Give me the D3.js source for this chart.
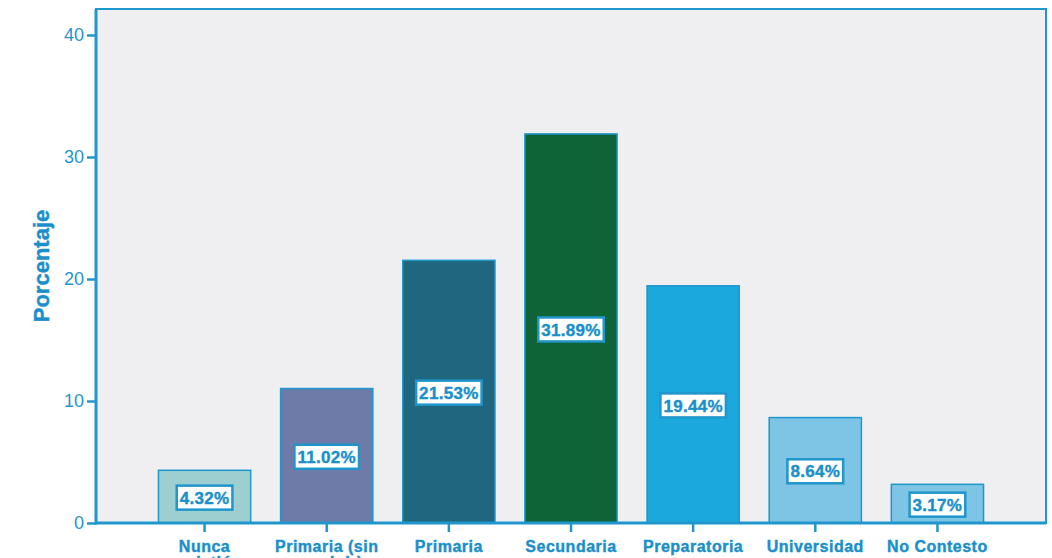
<!DOCTYPE html>
<html>
<head>
<meta charset="utf-8">
<script src="https://cdn.jsdelivr.net/npm/d3@7"></script>
<style>
  body { margin: 0; background: #fff; }
  svg { display: block; font-family: "Liberation Sans", Arial, sans-serif; }
</style>
</head>
<body>
<div id="chart"></div>
<script>
var categories = [["Nunca", "asistió"], ["Primaria (sin", "concluir)"], ["Primaria"], ["Secundaria"], ["Preparatoria"], ["Universidad"], ["No Contesto"]];
var values = [4.32, 11.02, 21.53, 31.89, 19.44, 8.64, 3.17];
var barColors = ["#9dcfd1", "#6e7ba8", "#21667f", "#0f6437", "#1ba8dd", "#7ec4e5", "#7ec4e5"];
var yTicks = [0, 10, 20, 30, 40];

var width = 1052, height = 558;
var blue = "#1f96cc";
var textBlue = "#1a8fca";
var plotL = 96, plotR = 1046, plotT = 9, plotB = 523;

var svg = d3.select("#chart").append("svg")
    .attr("width", width)
    .attr("height", height);

var y = d3.scaleLinear().domain([0, 42.13]).range([plotB, plotT]);
var x = d3.scaleBand()
    .domain(d3.range(categories.length))
    .range([143.5, 998.5])
    .paddingInner(0.245)
    .paddingOuter(0.1225);

// plot background
svg.append("rect")
    .attr("x", plotL).attr("y", plotT)
    .attr("width", plotR - plotL).attr("height", plotB - plotT)
    .style("fill", "#efeff2")
    .style("stroke", blue)
    .style("stroke-width", 2);

// bars
svg.selectAll(".bar")
    .data(values)
    .enter().append("rect")
    .attr("class", "bar")
    .attr("x", function(d, i) { return x(i); })
    .attr("width", x.bandwidth())
    .attr("y", function(d) { return y(d); })
    .attr("height", function(d) { return plotB - y(d); })
    .style("fill", function(d, i) { return barColors[i]; })
    .style("stroke", blue)
    .style("stroke-width", 1.5);

// value labels
var lab = svg.selectAll(".lab")
    .data(values)
    .enter().append("g")
    .attr("class", "lab")
    .attr("transform", function(d, i) {
        return "translate(" + (x(i) + x.bandwidth() / 2) + "," + (y(d / 2) + 1) + ")";
    });

lab.append("text")
    .attr("text-anchor", "middle")
    .attr("dy", "0.36em")
    .style("font-size", "17px")
    .style("font-weight", "bold")
    .style("letter-spacing", "0.3px")
    .style("fill", textBlue)
    .style("stroke", textBlue)
    .style("stroke-width", 0.4)
    .text(function(d) { return d.toFixed(2) + "%"; });

lab.each(function() {
    var g = d3.select(this);
    var bb = g.select("text").node().getBBox();
    g.insert("rect", "text")
        .attr("x", bb.x - 3)
        .attr("y", -12)
        .attr("width", bb.width + 6)
        .attr("height", 24)
        .style("fill", "#fff")
        .style("stroke", blue)
        .style("stroke-width", 2.5);
});

// axes
var yAxis = svg.append("g")
    .attr("transform", "translate(" + plotL + ",0)")
    .call(d3.axisLeft(y).tickValues(yTicks).tickSize(9).tickPadding(3));
yAxis.select(".domain").remove();
yAxis.selectAll("line").style("stroke", blue).style("stroke-width", 2.5);
yAxis.selectAll("text").style("fill", blue).style("font-size", "18px")
    .style("font-family", "'Liberation Sans', Arial, sans-serif");

svg.append("line")
    .attr("x1", plotL).attr("x2", plotL)
    .attr("y1", plotT).attr("y2", plotB + 1.5)
    .style("stroke", blue).style("stroke-width", 3);
svg.append("line")
    .attr("x1", plotL).attr("x2", plotR)
    .attr("y1", plotB).attr("y2", plotB)
    .style("stroke", blue).style("stroke-width", 3);

// x ticks
svg.selectAll(".xtick")
    .data(categories)
    .enter().append("line")
    .attr("x1", function(d, i) { return x(i) + x.bandwidth() / 2; })
    .attr("x2", function(d, i) { return x(i) + x.bandwidth() / 2; })
    .attr("y1", plotB).attr("y2", plotB + 9)
    .style("stroke", blue).style("stroke-width", 2.5);

var xl = svg.selectAll(".xlab")
    .data(categories)
    .enter().append("text")
    .attr("class", "xlab")
    .attr("text-anchor", "middle")
    .attr("x", function(d, i) { return x(i) + x.bandwidth() / 2; })
    .attr("y", 552)
    .style("font-size", "16px")
    .style("font-weight", "bold")
    .style("letter-spacing", "0.5px")
    .style("fill", textBlue)
    .style("stroke", textBlue)
    .style("stroke-width", 0.4);
xl.selectAll("tspan")
    .data(function(d) { return d; })
    .enter().append("tspan")
    .attr("x", function() { return d3.select(this.parentNode).attr("x"); })
    .attr("dy", function(d, i) { return i ? 16 : 0; })
    .text(function(d) { return d; });

// y axis title
svg.append("text")
    .attr("transform", "translate(49,266) rotate(-90)")
    .attr("text-anchor", "middle")
    .style("font-size", "22px")
    .style("font-weight", "bold")
    .style("fill", textBlue)
    .style("stroke", textBlue)
    .style("stroke-width", 0.4)
    .text("Porcentaje");
</script>
</body>
</html>
